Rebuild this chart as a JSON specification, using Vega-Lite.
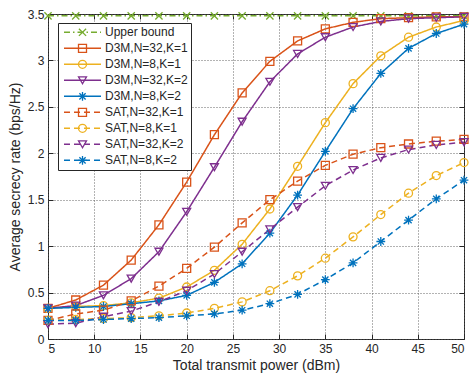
{
  "$schema": "https://vega.github.io/schema/vega-lite/v6.json",
  "width": 416,
  "height": 325,
  "autosize": {"type": "none"},
  "padding": {"left": 48, "top": 14, "right": 7, "bottom": 43},
  "background": "white",
  "config": {
    "view": {"stroke": "#262626", "strokeWidth": 1},
    "font": "Liberation Sans",
    "axis": {
      "labelFont": "Liberation Sans", "labelFontSize": 12, "labelColor": "#262626",
      "titleFont": "Liberation Sans", "titleFontSize": 14, "titleColor": "#262626", "titleFontWeight": "normal",
      "domain": false, "tickColor": "#262626", "tickSize": -5, "tickWidth": 1,
      "gridColor": "#555", "gridDash": [1, 2], "gridWidth": 0.9, "gridOpacity": 1
    }
  },
  "data": {"values": [
    {"series":"Upper bound","power":5,"rate":3.48},{"series":"Upper bound","power":8,"rate":3.48},{"series":"Upper bound","power":11,"rate":3.48},{"series":"Upper bound","power":14,"rate":3.48},{"series":"Upper bound","power":17,"rate":3.48},{"series":"Upper bound","power":20,"rate":3.48},{"series":"Upper bound","power":23,"rate":3.48},{"series":"Upper bound","power":26,"rate":3.48},{"series":"Upper bound","power":29,"rate":3.48},{"series":"Upper bound","power":32,"rate":3.48},{"series":"Upper bound","power":35,"rate":3.48},{"series":"Upper bound","power":38,"rate":3.48},{"series":"Upper bound","power":41,"rate":3.48},{"series":"Upper bound","power":44,"rate":3.48},{"series":"Upper bound","power":47,"rate":3.48},{"series":"Upper bound","power":50,"rate":3.48},
    {"series":"D3M,N=32,K=1","power":5,"rate":0.33},{"series":"D3M,N=32,K=1","power":8,"rate":0.42},{"series":"D3M,N=32,K=1","power":11,"rate":0.58},{"series":"D3M,N=32,K=1","power":14,"rate":0.85},{"series":"D3M,N=32,K=1","power":17,"rate":1.23},{"series":"D3M,N=32,K=1","power":20,"rate":1.69},{"series":"D3M,N=32,K=1","power":23,"rate":2.2},{"series":"D3M,N=32,K=1","power":26,"rate":2.65},{"series":"D3M,N=32,K=1","power":29,"rate":2.99},{"series":"D3M,N=32,K=1","power":32,"rate":3.21},{"series":"D3M,N=32,K=1","power":35,"rate":3.34},{"series":"D3M,N=32,K=1","power":38,"rate":3.41},{"series":"D3M,N=32,K=1","power":41,"rate":3.45},{"series":"D3M,N=32,K=1","power":44,"rate":3.46},{"series":"D3M,N=32,K=1","power":47,"rate":3.47},{"series":"D3M,N=32,K=1","power":50,"rate":3.47},
    {"series":"D3M,N=8,K=1","power":5,"rate":0.33},{"series":"D3M,N=8,K=1","power":8,"rate":0.35},{"series":"D3M,N=8,K=1","power":11,"rate":0.36},{"series":"D3M,N=8,K=1","power":14,"rate":0.39},{"series":"D3M,N=8,K=1","power":17,"rate":0.44},{"series":"D3M,N=8,K=1","power":20,"rate":0.56},{"series":"D3M,N=8,K=1","power":23,"rate":0.74},{"series":"D3M,N=8,K=1","power":26,"rate":1.02},{"series":"D3M,N=8,K=1","power":29,"rate":1.4},{"series":"D3M,N=8,K=1","power":32,"rate":1.86},{"series":"D3M,N=8,K=1","power":35,"rate":2.33},{"series":"D3M,N=8,K=1","power":38,"rate":2.75},{"series":"D3M,N=8,K=1","power":41,"rate":3.05},{"series":"D3M,N=8,K=1","power":44,"rate":3.25},{"series":"D3M,N=8,K=1","power":47,"rate":3.36},{"series":"D3M,N=8,K=1","power":50,"rate":3.43},
    {"series":"D3M,N=32,K=2","power":5,"rate":0.33},{"series":"D3M,N=32,K=2","power":8,"rate":0.36},{"series":"D3M,N=32,K=2","power":11,"rate":0.47},{"series":"D3M,N=32,K=2","power":14,"rate":0.65},{"series":"D3M,N=32,K=2","power":17,"rate":0.94},{"series":"D3M,N=32,K=2","power":20,"rate":1.37},{"series":"D3M,N=32,K=2","power":23,"rate":1.85},{"series":"D3M,N=32,K=2","power":26,"rate":2.34},{"series":"D3M,N=32,K=2","power":29,"rate":2.77},{"series":"D3M,N=32,K=2","power":32,"rate":3.07},{"series":"D3M,N=32,K=2","power":35,"rate":3.25},{"series":"D3M,N=32,K=2","power":38,"rate":3.36},{"series":"D3M,N=32,K=2","power":41,"rate":3.42},{"series":"D3M,N=32,K=2","power":44,"rate":3.45},{"series":"D3M,N=32,K=2","power":47,"rate":3.46},{"series":"D3M,N=32,K=2","power":50,"rate":3.47},
    {"series":"D3M,N=8,K=2","power":5,"rate":0.33},{"series":"D3M,N=8,K=2","power":8,"rate":0.34},{"series":"D3M,N=8,K=2","power":11,"rate":0.35},{"series":"D3M,N=8,K=2","power":14,"rate":0.38},{"series":"D3M,N=8,K=2","power":17,"rate":0.41},{"series":"D3M,N=8,K=2","power":20,"rate":0.47},{"series":"D3M,N=8,K=2","power":23,"rate":0.61},{"series":"D3M,N=8,K=2","power":26,"rate":0.81},{"series":"D3M,N=8,K=2","power":29,"rate":1.14},{"series":"D3M,N=8,K=2","power":32,"rate":1.55},{"series":"D3M,N=8,K=2","power":35,"rate":2.02},{"series":"D3M,N=8,K=2","power":38,"rate":2.48},{"series":"D3M,N=8,K=2","power":41,"rate":2.86},{"series":"D3M,N=8,K=2","power":44,"rate":3.13},{"series":"D3M,N=8,K=2","power":47,"rate":3.29},{"series":"D3M,N=8,K=2","power":50,"rate":3.39},
    {"series":"SAT,N=32,K=1","power":5,"rate":0.2},{"series":"SAT,N=32,K=1","power":8,"rate":0.27},{"series":"SAT,N=32,K=1","power":11,"rate":0.31},{"series":"SAT,N=32,K=1","power":14,"rate":0.41},{"series":"SAT,N=32,K=1","power":17,"rate":0.57},{"series":"SAT,N=32,K=1","power":20,"rate":0.76},{"series":"SAT,N=32,K=1","power":23,"rate":0.99},{"series":"SAT,N=32,K=1","power":26,"rate":1.25},{"series":"SAT,N=32,K=1","power":29,"rate":1.5},{"series":"SAT,N=32,K=1","power":32,"rate":1.7},{"series":"SAT,N=32,K=1","power":35,"rate":1.87},{"series":"SAT,N=32,K=1","power":38,"rate":1.99},{"series":"SAT,N=32,K=1","power":41,"rate":2.06},{"series":"SAT,N=32,K=1","power":44,"rate":2.1},{"series":"SAT,N=32,K=1","power":47,"rate":2.13},{"series":"SAT,N=32,K=1","power":50,"rate":2.15},
    {"series":"SAT,N=8,K=1","power":5,"rate":0.2},{"series":"SAT,N=8,K=1","power":8,"rate":0.21},{"series":"SAT,N=8,K=1","power":11,"rate":0.22},{"series":"SAT,N=8,K=1","power":14,"rate":0.23},{"series":"SAT,N=8,K=1","power":17,"rate":0.25},{"series":"SAT,N=8,K=1","power":20,"rate":0.28},{"series":"SAT,N=8,K=1","power":23,"rate":0.33},{"series":"SAT,N=8,K=1","power":26,"rate":0.4},{"series":"SAT,N=8,K=1","power":29,"rate":0.52},{"series":"SAT,N=8,K=1","power":32,"rate":0.68},{"series":"SAT,N=8,K=1","power":35,"rate":0.87},{"series":"SAT,N=8,K=1","power":38,"rate":1.1},{"series":"SAT,N=8,K=1","power":41,"rate":1.34},{"series":"SAT,N=8,K=1","power":44,"rate":1.57},{"series":"SAT,N=8,K=1","power":47,"rate":1.76},{"series":"SAT,N=8,K=1","power":50,"rate":1.9},
    {"series":"SAT,N=32,K=2","power":5,"rate":0.16},{"series":"SAT,N=32,K=2","power":8,"rate":0.17},{"series":"SAT,N=32,K=2","power":11,"rate":0.24},{"series":"SAT,N=32,K=2","power":14,"rate":0.3},{"series":"SAT,N=32,K=2","power":17,"rate":0.4},{"series":"SAT,N=32,K=2","power":20,"rate":0.52},{"series":"SAT,N=32,K=2","power":23,"rate":0.7},{"series":"SAT,N=32,K=2","power":26,"rate":0.94},{"series":"SAT,N=32,K=2","power":29,"rate":1.18},{"series":"SAT,N=32,K=2","power":32,"rate":1.42},{"series":"SAT,N=32,K=2","power":35,"rate":1.65},{"series":"SAT,N=32,K=2","power":38,"rate":1.82},{"series":"SAT,N=32,K=2","power":41,"rate":1.95},{"series":"SAT,N=32,K=2","power":44,"rate":2.04},{"series":"SAT,N=32,K=2","power":47,"rate":2.09},{"series":"SAT,N=32,K=2","power":50,"rate":2.12},
    {"series":"SAT,N=8,K=2","power":5,"rate":0.2},{"series":"SAT,N=8,K=2","power":8,"rate":0.2},{"series":"SAT,N=8,K=2","power":11,"rate":0.21},{"series":"SAT,N=8,K=2","power":14,"rate":0.22},{"series":"SAT,N=8,K=2","power":17,"rate":0.23},{"series":"SAT,N=8,K=2","power":20,"rate":0.25},{"series":"SAT,N=8,K=2","power":23,"rate":0.27},{"series":"SAT,N=8,K=2","power":26,"rate":0.31},{"series":"SAT,N=8,K=2","power":29,"rate":0.38},{"series":"SAT,N=8,K=2","power":32,"rate":0.48},{"series":"SAT,N=8,K=2","power":35,"rate":0.64},{"series":"SAT,N=8,K=2","power":38,"rate":0.82},{"series":"SAT,N=8,K=2","power":41,"rate":1.05},{"series":"SAT,N=8,K=2","power":44,"rate":1.28},{"series":"SAT,N=8,K=2","power":47,"rate":1.51},{"series":"SAT,N=8,K=2","power":50,"rate":1.71}
  ]},
  "resolve": {"scale": {"x": "independent", "y": "independent", "color": "independent", "shape": "independent", "strokeDash": "independent"}},
  "layer": [
    {
      "mark": {"type": "line", "strokeWidth": 1.5},
      "encoding": {
        "x": {"field": "power", "type": "quantitative", "scale": {"domain": [5, 50], "nice": false},
              "axis": {"values": [5,10,15,20,25,30,35,40,45,50], "title": "Total transmit power (dBm)", "labelPadding": 9, "titlePadding": 4, "grid": true}},
        "y": {"field": "rate", "type": "quantitative", "scale": {"domain": [0, 3.5], "nice": false},
              "axis": {"values": [0,0.5,1,1.5,2,2.5,3,3.5], "labelExpr": "datum.value + ''", "title": "Average secrecy rate (bps/Hz)", "labelPadding": 9, "titlePadding": 5, "grid": true}},
        "color": {"field": "series", "type": "nominal",
          "scale": {"domain": ["Upper bound","D3M,N=32,K=1","D3M,N=8,K=1","D3M,N=32,K=2","D3M,N=8,K=2","SAT,N=32,K=1","SAT,N=8,K=1","SAT,N=32,K=2","SAT,N=8,K=2"],
                    "range": ["#77AC30","#D95319","#EDB120","#7E2F8E","#0072BD","#D95319","#EDB120","#7E2F8E","#0072BD"]},
          "legend": {"orient": "none", "legendX": 10, "legendY": 9, "title": null, "symbolType": "stroke", "symbolSize": 1369, "symbolStrokeWidth": 1.5,
                     "clipHeight": 12.6, "rowPadding": 3, "padding": 3, "symbolOffset": 2, "labelOffset": 3,
                     "labelFont": "Liberation Sans", "labelFontSize": 12, "labelColor": "#262626",
                     "strokeColor": "#262626", "fillColor": "white",
                     "encode": {"symbols": {"update": {
                        "strokeDash": {"signal": "datum.value == 'Upper bound' ? [6,3,1.5,3] : indexof(datum.value, 'SAT') == 0 ? [6,25,6] : [1,0]"}
                     }}}}},
        "strokeDash": {"field": "series", "type": "nominal", "legend": null,
          "scale": {"domain": ["Upper bound","D3M,N=32,K=1","D3M,N=8,K=1","D3M,N=32,K=2","D3M,N=8,K=2","SAT,N=32,K=1","SAT,N=8,K=1","SAT,N=32,K=2","SAT,N=8,K=2"],
                    "range": [[6,3,1.5,3],[1,0],[1,0],[1,0],[1,0],[6,4],[6,4],[6,4],[6,4]]}}
      }
    },
    {
      "mark": {"type": "point", "filled": false, "strokeWidth": 1.3, "size": 64, "opacity": 1},
      "encoding": {
        "x": {"field": "power", "type": "quantitative", "scale": {"domain": [5, 50], "nice": false},
              "axis": {"orient": "top", "values": [5,10,15,20,25,30,35,40,45,50], "labels": false, "title": null, "grid": false}},
        "y": {"field": "rate", "type": "quantitative", "scale": {"domain": [0, 3.5], "nice": false},
              "axis": {"orient": "right", "values": [0,0.5,1,1.5,2,2.5,3,3.5], "labels": false, "title": null, "grid": false}},
        "color": {"field": "series", "type": "nominal",
          "scale": {"domain": ["Upper bound","D3M,N=32,K=1","D3M,N=8,K=1","D3M,N=32,K=2","D3M,N=8,K=2","SAT,N=32,K=1","SAT,N=8,K=1","SAT,N=32,K=2","SAT,N=8,K=2"],
                    "range": ["#77AC30","#D95319","#EDB120","#7E2F8E","#0072BD","#D95319","#EDB120","#7E2F8E","#0072BD"]},
          "legend": {"orient": "none", "legendX": 10, "legendY": 9, "title": null, "symbolSize": 64, "symbolStrokeWidth": 1.3,
                     "clipHeight": 12.6, "rowPadding": 3, "padding": 3, "symbolOffset": 15.5, "labelOffset": 3,
                     "labelFont": "Liberation Sans", "labelFontSize": 12, "labelExpr": "''", "symbolFillColor": "transparent"}},
        "shape": {"field": "series", "type": "nominal",
          "scale": {"domain": ["Upper bound","D3M,N=32,K=1","D3M,N=8,K=1","D3M,N=32,K=2","D3M,N=8,K=2","SAT,N=32,K=1","SAT,N=8,K=1","SAT,N=32,K=2","SAT,N=8,K=2"],
                    "range": ["M-0.9,-0.9L0.9,0.9M-0.9,0.9L0.9,-0.9","square","circle","triangle-down","M-1.1,0H1.1M0,-1.1V1.1M-0.78,-0.78L0.78,0.78M-0.78,0.78L0.78,-0.78","square","circle","triangle-down","M-1.1,0H1.1M0,-1.1V1.1M-0.78,-0.78L0.78,0.78M-0.78,0.78L0.78,-0.78"]},
          "legend": {"orient": "none", "legendX": 10, "legendY": 9, "title": null, "symbolSize": 64, "symbolStrokeWidth": 1.3,
                     "clipHeight": 12.6, "rowPadding": 3, "padding": 3, "symbolOffset": 15.5, "labelOffset": 3,
                     "labelFont": "Liberation Sans", "labelFontSize": 12, "labelExpr": "''", "symbolFillColor": "transparent"}}
      }
    }
  ]
}
